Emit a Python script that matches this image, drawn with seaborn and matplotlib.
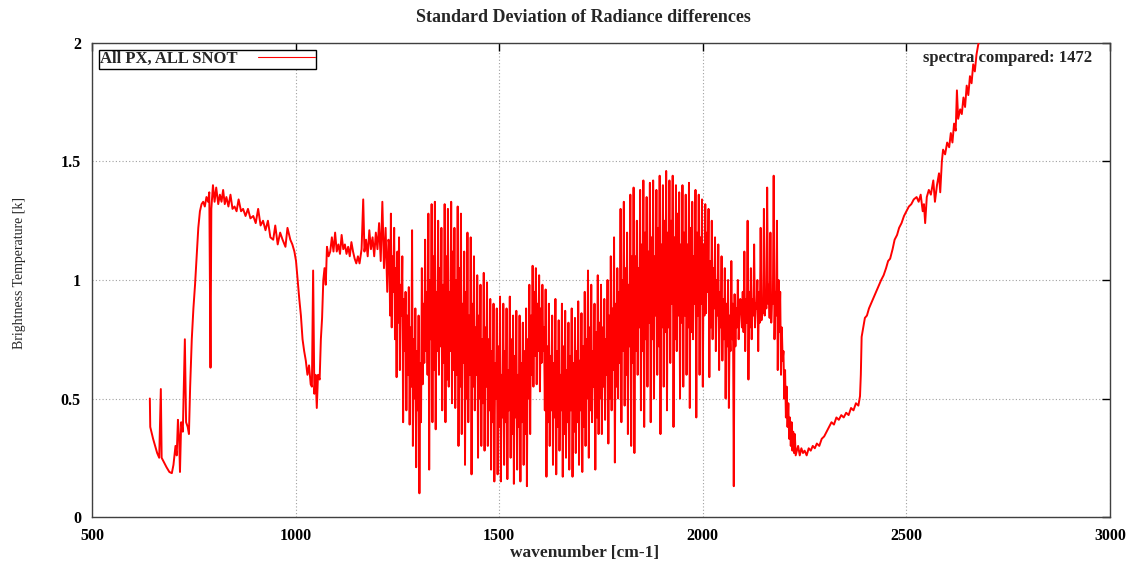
import numpy as np
import pandas as pd
import matplotlib
matplotlib.use("Agg")
import matplotlib.pyplot as plt
import seaborn as sns

# %% data (wavenumber [cm-1], std dev [k])
# smooth part before the water band
lw_wn = [642, 643, 650, 655, 660, 665, 669, 671, 677, 683, 690, 696, 700, 705, 708,
         711, 714, 716, 719, 723, 726, 728, 731, 735, 738, 741, 745, 749, 753, 757,
         761, 765, 769, 773, 777, 781, 785, 788, 791, 793, 797, 801, 805, 810, 814,
         818, 822, 826, 830, 835, 840, 845, 850, 855, 860, 866, 871, 877, 883, 889,
         896, 902, 908, 914, 920, 926, 932, 938, 945, 950, 956, 962, 968, 975, 980,
         987, 992, 997, 1001, 1005, 1009, 1013, 1017, 1021, 1025, 1029, 1033, 1037,
         1040, 1043, 1046, 1049, 1052, 1055, 1059, 1062, 1065, 1068, 1071, 1074, 1077,
         1081, 1085, 1089, 1093, 1097, 1101, 1105, 1109, 1113, 1117, 1121, 1125, 1129,
         1133, 1137, 1141, 1145, 1149, 1153, 1157, 1162, 1166, 1169, 1173, 1177, 1181,
         1185, 1189, 1193, 1197, 1201, 1205, 1209, 1213, 1217, 1221, 1225, 1228]
lw_bt = [0.50, 0.38, 0.33, 0.30, 0.27, 0.25, 0.54, 0.25, 0.23, 0.21, 0.19, 0.185, 0.22, 0.30, 0.26,
         0.41, 0.33, 0.19, 0.40, 0.36, 0.60, 0.75, 0.40, 0.38, 0.35, 0.55, 0.75, 0.88, 0.98, 1.10,
         1.22, 1.29, 1.32, 1.33, 1.31, 1.35, 1.33, 1.37, 0.63, 1.30, 1.40, 1.33, 1.39, 1.32, 1.36,
         1.33, 1.38, 1.32, 1.35, 1.31, 1.36, 1.30, 1.31, 1.29, 1.34, 1.29, 1.30, 1.27, 1.30, 1.26,
         1.27, 1.24, 1.30, 1.23, 1.25, 1.21, 1.25, 1.18, 1.17, 1.23, 1.15, 1.20, 1.17, 1.14, 1.22,
         1.17, 1.15, 1.12, 1.08, 1.00, 0.92, 0.85, 0.75, 0.70, 0.66, 0.60, 0.64, 0.56,
         0.55, 1.04, 0.52, 0.60, 0.46, 0.60, 0.58, 0.75, 0.84, 1.00, 1.05, 0.98, 1.14,
         1.10, 1.12, 1.18, 1.12, 1.20, 1.12, 1.15, 1.11, 1.19, 1.13, 1.15, 1.11, 1.14,
         1.10, 1.16, 1.12, 1.09, 1.07, 1.10, 1.07, 1.13, 1.34, 1.12, 1.17, 1.10, 1.21,
         1.13, 1.18, 1.10, 1.20, 1.13, 1.24, 1.08, 1.33, 1.05, 1.22, 0.95, 1.17]

# noisy water band, one value every 2 cm-1 starting at 1230 (20 values per row)
band_start = 1230
band_step = 2
band_bt = [
    1.15, 0.85, 1.28, 0.80, 1.10, 0.95, 1.22, 0.75, 1.05, 0.59, 1.12, 0.82, 1.18, 0.62, 0.98, 0.85, 1.10, 0.40, 0.92, 0.70,
    0.95, 0.45, 0.85, 0.60, 0.97, 0.39, 0.80, 0.55, 1.21, 0.30, 0.75, 0.50, 0.88, 0.21, 0.70, 0.45, 0.85, 0.10, 0.65, 0.40,
    1.05, 0.56, 0.90, 0.65, 1.17, 0.70, 0.95, 0.60, 1.28, 0.20, 1.00, 0.75, 1.32, 0.40, 1.10, 0.62, 1.33, 0.37, 0.95, 0.70,
    1.25, 0.60, 1.05, 0.72, 1.22, 0.45, 0.98, 0.65, 1.32, 0.40, 1.10, 0.58, 1.30, 0.55, 0.95, 0.70, 1.33, 0.48, 1.12, 0.62,
    1.22, 0.46, 1.00, 0.60, 1.31, 0.30, 1.05, 0.55, 1.28, 0.35, 0.90, 0.65, 1.12, 0.22, 0.95, 0.50, 1.20, 0.40, 0.85, 0.60,
    1.18, 0.18, 0.90, 0.55, 1.10, 0.45, 0.80, 0.60, 1.02, 0.25, 0.85, 0.50, 0.98, 0.30, 0.75, 0.48, 1.03, 0.28, 0.80, 0.55,
    0.99, 0.30, 0.75, 0.45, 0.92, 0.20, 0.70, 0.40, 0.90, 0.15, 0.65, 0.50, 0.88, 0.18, 0.72, 0.38, 0.93, 0.15, 0.60, 0.42,
    0.90, 0.22, 0.70, 0.40, 0.88, 0.16, 0.62, 0.45, 0.93, 0.25, 0.75, 0.35, 0.85, 0.14, 0.68, 0.42, 0.87, 0.20, 0.60, 0.38,
    0.85, 0.15, 0.65, 0.40, 0.82, 0.22, 0.70, 0.35, 0.88, 0.13, 0.75, 0.50, 0.98, 0.35, 0.85, 0.60, 1.06, 0.55, 0.95, 0.68,
    1.05, 0.56, 0.90, 0.70, 1.02, 0.53, 0.88, 0.65, 0.98, 0.70, 0.80, 0.45, 0.96, 0.17, 0.72, 0.40, 0.90, 0.30, 0.68, 0.45,
    0.85, 0.22, 0.65, 0.42, 0.92, 0.18, 0.70, 0.38, 0.83, 0.28, 0.60, 0.45, 0.90, 0.17, 0.72, 0.35, 0.87, 0.25, 0.62, 0.40,
    0.82, 0.20, 0.68, 0.45, 0.88, 0.17, 0.65, 0.36, 0.84, 0.27, 0.70, 0.40, 0.91, 0.22, 0.66, 0.45, 0.86, 0.19, 0.72, 0.38,
    0.95, 0.30, 0.75, 0.50, 1.04, 0.25, 0.80, 0.45, 0.98, 0.40, 0.70, 0.55, 0.90, 0.20, 0.78, 0.42, 1.02, 0.35, 0.82, 0.50,
    0.98, 0.35, 0.80, 0.55, 0.92, 0.41, 0.75, 0.60, 1.00, 0.31, 0.85, 0.50, 1.10, 0.45, 0.88, 0.62, 1.18, 0.23, 0.90, 0.55,
    1.05, 0.50, 0.95, 0.65, 1.30, 0.40, 1.00, 0.70, 1.33, 0.47, 1.05, 0.60, 1.20, 0.35, 0.98, 0.72, 1.36, 0.30, 1.10, 0.65,
    1.39, 0.27, 1.10, 0.70, 1.25, 0.60, 1.05, 0.80, 1.38, 0.45, 1.15, 0.70, 1.42, 0.38, 1.20, 0.75, 1.35, 0.55, 1.12, 0.82,
    1.41, 0.40, 1.18, 0.75, 1.42, 0.50, 1.10, 0.85, 1.38, 0.60, 1.22, 0.72, 1.44, 0.35, 1.15, 0.80, 1.40, 0.55, 1.25, 0.78,
    1.46, 0.45, 1.20, 0.80, 1.42, 0.65, 1.25, 0.90, 1.44, 0.38, 1.18, 0.75, 1.40, 0.70, 1.28, 0.85, 1.37, 0.50, 1.15, 0.82,
    1.40, 0.55, 1.20, 0.85, 1.36, 0.60, 1.15, 0.80, 1.41, 0.46, 1.22, 0.78, 1.33, 0.75, 1.10, 0.90, 1.38, 0.42, 1.20, 0.85,
    1.36, 0.60, 1.18, 0.90, 1.34, 0.55, 1.15, 0.85, 1.32, 0.86, 1.20, 0.95, 1.30, 0.59, 1.08, 0.80, 1.25, 0.75, 1.05, 0.88,
    1.18, 0.70, 1.00, 0.85, 1.15, 0.62, 0.95, 0.80, 1.10, 0.66, 0.92, 0.75, 1.05, 0.50, 0.90, 0.72, 1.00, 0.46, 0.85, 0.70,
    1.08, 0.75, 0.90, 0.13, 0.94, 0.72, 0.88, 0.80, 1.00, 0.75, 0.85, 0.92, 0.90, 0.80, 0.95, 0.78, 1.12, 0.70, 0.92, 0.82,
    1.25, 0.58, 0.95, 0.80, 1.05, 0.75, 0.92, 0.85, 1.15, 0.80, 0.90, 0.88, 1.00, 0.70, 0.95, 0.82, 1.22, 0.83, 0.90, 0.86,
    1.30, 0.85, 0.95, 0.88, 1.39, 0.90, 0.98, 0.84, 1.20, 0.82, 0.92, 0.90, 1.44, 0.75, 0.95, 0.85, 1.25, 0.62, 1.00, 0.78,
    0.95, 0.60, 0.80, 0.66, 0.70, 0.50, 0.62, 0.42, 0.55, 0.38, 0.48, 0.33, 0.42, 0.30, 0.40, 0.28, 0.36, 0.27, 0.35, 0.26,
]

# smooth part after the band (runs off the top near 2680)
sw_wn = [2234, 2238, 2242, 2246, 2250, 2255, 2260, 2265, 2270, 2275, 2280, 2286, 2292,
         2298, 2304, 2310, 2316, 2322, 2328, 2334, 2340, 2346, 2352, 2358, 2364, 2370,
         2376, 2382, 2386, 2388, 2390, 2394, 2398, 2403, 2408, 2413, 2418, 2423, 2428,
         2433, 2438, 2444, 2450, 2455, 2460, 2466, 2471, 2477, 2482, 2488, 2494, 2500,
         2506, 2512, 2518, 2525, 2530, 2535, 2540, 2543, 2546, 2550, 2555, 2560, 2566,
         2570, 2575, 2580, 2583, 2587, 2590, 2595, 2600, 2605, 2609, 2613, 2617, 2621,
         2624, 2627, 2632, 2636, 2640, 2644, 2648, 2652, 2656, 2660, 2664, 2668, 2672,
         2676, 2680, 2685, 2690, 2700]
sw_bt = [0.30, 0.26, 0.29, 0.27, 0.28, 0.26, 0.29, 0.28, 0.30, 0.29, 0.31, 0.30, 0.33,
         0.34, 0.36, 0.38, 0.40, 0.39, 0.42, 0.41, 0.43, 0.42, 0.44, 0.43, 0.46, 0.45,
         0.48, 0.47, 0.51, 0.60, 0.76, 0.80, 0.84, 0.85, 0.88, 0.90, 0.92, 0.94, 0.96,
         0.98, 1.00, 1.02, 1.05, 1.08, 1.09, 1.13, 1.17, 1.19, 1.22, 1.24, 1.27, 1.29,
         1.31, 1.32, 1.34, 1.35, 1.33, 1.36, 1.29, 1.32, 1.24, 1.35, 1.38, 1.36, 1.42,
         1.33, 1.40, 1.45, 1.37, 1.50, 1.55, 1.53, 1.58, 1.56, 1.62, 1.58, 1.66, 1.63,
         1.80, 1.68, 1.72, 1.70, 1.77, 1.73, 1.82, 1.78, 1.86, 1.83, 1.91, 1.88, 1.95,
         1.99, 2.02, 2.05, 2.08, 2.12]

n_spectra = 1472

# %% assemble
band_wn = band_start + band_step * np.arange(len(band_bt))
df = pd.DataFrame({
    "wn": np.concatenate([lw_wn, band_wn, sw_wn]),
    "bt": np.concatenate([lw_bt, band_bt, sw_bt]),
})

# %% plot
sns.set_theme(style="white")
plt.rcParams["font.family"] = ["Liberation Serif", "DejaVu Serif"]

fig = plt.figure(figsize=(11.29, 5.61), dpi=100)
ax = fig.add_axes([0.0815, 0.0784, 0.9017, 0.845])

sns.lineplot(data=df, x="wn", y="bt", ax=ax, color="#ff0000", linewidth=1.4,
             estimator=None, sort=False, label="All PX, ALL SNOT", zorder=3)

ax.set_xlim(500, 3000)
ax.set_ylim(0, 2)
ax.set_xticks([500, 1000, 1500, 2000, 2500, 3000])
ax.set_yticks([0, 0.5, 1, 1.5, 2])
ax.set_yticklabels(["0", "0.5", "1", "1.5", "2"])
ax.grid(True, color="#a0a0a0", linestyle=(0, (1, 2)), linewidth=0.8)
ax.tick_params(direction="in", length=6, width=1, top=True, right=True,
               labelsize=11.5, colors="black", pad=8)
for lab in ax.get_xticklabels() + ax.get_yticklabels():
    lab.set_fontweight("bold")
for s in ax.spines.values():
    s.set_color("#404040")
    s.set_linewidth(1.0)

ax.set_xlabel("")
ax.set_ylabel("")
fig.text(583 / 1129, 1 - 18 / 561, "Standard Deviation of Radiance differences",
         ha="center", va="center", fontsize=13, fontweight="bold")
fig.text(585 / 1129, 1 - 553 / 561, "wavenumber [cm-1]",
         ha="center", va="center", fontsize=12.5, fontweight="bold")
fig.text(20 / 1129, 1 - 273 / 561, "Brightness Temperature [k]",
         ha="center", va="center", rotation=90, fontsize=10)
ax.text(0.9825, 0.985, f"spectra compared: {n_spectra}", transform=ax.transAxes,
        ha="right", va="top", fontsize=12, fontweight="bold", zorder=1)

leg = ax.legend(loc="upper left", markerfirst=False, fancybox=False,
                edgecolor="black", framealpha=1, handlelength=3.4,
                prop={"size": 12, "weight": "bold"},
                borderpad=0.1, borderaxespad=0.4, handletextpad=1.2)
leg.get_frame().set_linewidth(1.0)
for h in leg.get_lines():
    h.set_linewidth(0.8)

plt.savefig("out.png", dpi=100)
